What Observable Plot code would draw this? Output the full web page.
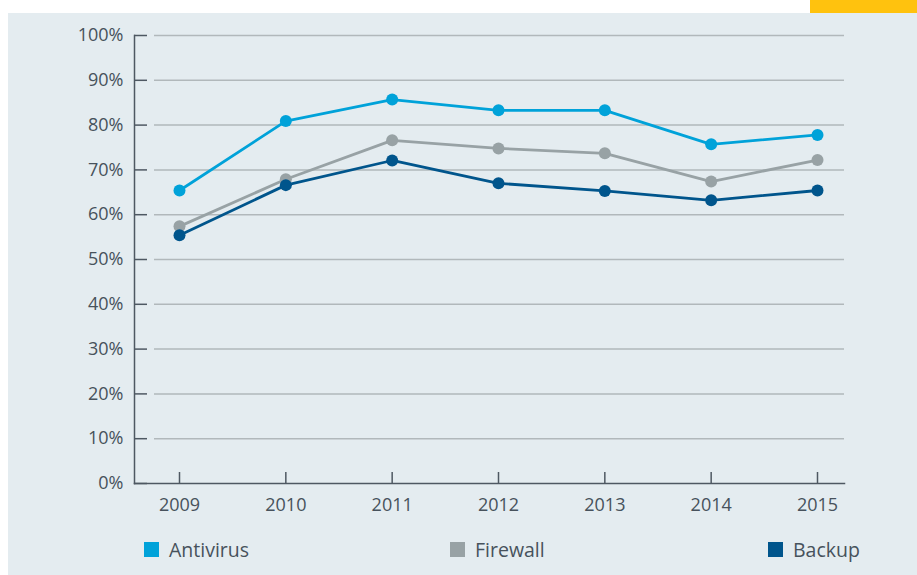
<!DOCTYPE html>
<html>
<head>
<meta charset="utf-8">
<script src="https://cdn.jsdelivr.net/npm/d3@7"></script>
<script src="https://cdn.jsdelivr.net/npm/@observablehq/plot@0.6"></script>
<style>
  html, body { margin: 0; padding: 0; background: #ffffff; width: 917px; height: 575px; overflow: hidden; }
  #page { position: relative; width: 917px; height: 575px; font-family: "Open Sans", sans-serif; }
  #bg { position: absolute; left: 8px; top: 13px; width: 909px; height: 562px; background: #e4ecf0; }
  #accent { position: absolute; left: 810px; top: 0; width: 107px; height: 13px; background: #ffc20e; }
  #chart { position: absolute; left: 0; top: 0; }
  .leg { position: absolute; top: 536px; display: flex; align-items: center; font-size: 19.5px; color: #47525c; }
  .leg .sw { width: 15px; height: 15px; margin-right: 10px; }
</style>
</head>
<body>
<div id="page">
  <div id="bg"></div>
  <div id="accent"></div>
  <div id="chart"></div>
</div>
<script>
const years = [2009, 2010, 2011, 2012, 2013, 2014, 2015];
const seriesNames = ["Antivirus", "Firewall", "Backup"];
const antivirus = [65.4, 80.9, 85.7, 83.3, 83.3, 75.7, 77.8];
const firewall  = [57.4, 67.9, 76.6, 74.8, 73.7, 67.4, 72.2];
const backup    = [55.4, 66.6, 72.1, 67.0, 65.3, 63.2, 65.4];
const yTicks = [0, 10, 20, 30, 40, 50, 60, 70, 80, 90, 100];
const seriesColors = ["#00a2d9", "#98a2a5", "#00558c"];

const valuesBySeries = [antivirus, firewall, backup];
const data = [];
seriesNames.forEach((s, i) => {
  years.forEach((yr, j) => data.push({series: s, year: yr, value: valuesBySeries[i][j]}));
});

const textColor = "#47525c";
const axisColor = "#4e5862";
const gridColor = "#b1b8bb";

const chart = Plot.plot({
  width: 917,
  height: 520,
  marginLeft: 134,
  marginRight: 73,
  marginTop: 35,
  marginBottom: 37,
  style: {background: "transparent", fontFamily: "Open Sans, sans-serif", color: textColor},
  x: {type: "linear", domain: [2009, 2015], insetLeft: 45, insetRight: 27},
  y: {domain: [0, 100]},
  color: {domain: seriesNames, range: seriesColors},
  marks: [
    Plot.ruleY(yTicks.filter(d => d > 0), {stroke: gridColor, strokeWidth: 1.5, insetLeft: 20}),
    Plot.frame({anchor: "left", stroke: axisColor, strokeWidth: 1.5}),
    Plot.frame({anchor: "bottom", stroke: axisColor, strokeWidth: 1.5}),
    Plot.axisY({ticks: yTicks, tickSize: 0, tickPadding: 11, tickFormat: d => d + "%", fontSize: 18, fill: textColor, label: null}),
    Plot.axisY({ticks: yTicks, tickSize: -13, text: null, stroke: axisColor, strokeWidth: 1.5, label: null}),
    Plot.axisX({ticks: years, tickSize: 0, tickPadding: 15, tickFormat: d => String(d), fontSize: 18, fill: textColor, label: null}),
    Plot.axisX({ticks: years, tickSize: -11, text: null, stroke: axisColor, strokeWidth: 1.5, label: null}),
    Plot.line(data, {x: "year", y: "value", stroke: "series", strokeWidth: 2.8}),
    Plot.dot(data, {x: "year", y: "value", fill: "series", r: 6})
  ]
});
document.getElementById("chart").appendChild(chart);

// legend
const legendLeft = [144, 450, 768];
const page = document.getElementById("page");
seriesNames.forEach((s, i) => {
  const d = document.createElement("div");
  d.className = "leg";
  d.style.left = legendLeft[i] + "px";
  d.innerHTML = `<span class="sw" style="background:${seriesColors[i]}"></span><span>${s}</span>`;
  page.appendChild(d);
});
</script>
</body>
</html>
